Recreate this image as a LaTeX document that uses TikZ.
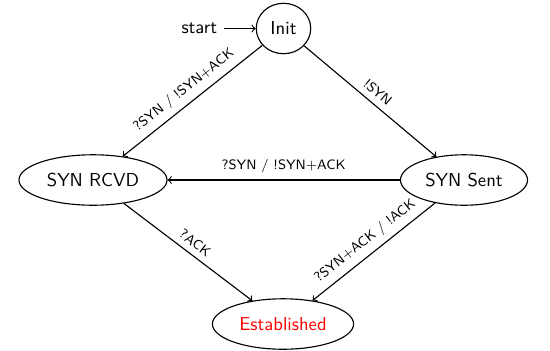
\documentclass[tikz,border=0pt]{standalone}
\usepackage{xcolor}
\usetikzlibrary{shapes.geometric,positioning}
\definecolor{estab}{rgb}{1,0,0}

\begin{document}
\begin{tikzpicture}[x=0.01882cm,y=-0.01882cm, font=\sffamily, semithick,
	state/.style={ellipse,draw,minimum height=27pt},
	lbl/.style={sloped,above,font=\sffamily\fontsize{7.3}{9}\selectfont}]
			\useasboundingbox (0,0) rectangle (550,350);
			\coordinate (s1) at (283.5,28.5);
			\coordinate (s2) at (93,180);
			\coordinate (s3) at (464,180);
			\coordinate (s4) at (283,324);
			
			\node (init) at (s1) [state] {Init};
			\node (rcvd) at (s2) [state] {SYN RCVD};
			\node (sent) at (s3) [state] {SYN Sent};
			\node (estab) at (s4) [state, text=estab] {Established};
			\node (start) [left=0.6cm of init] {start};
			
			\draw[->] (start) -- (init);
			\draw[->] (init) -- (rcvd) node[midway, lbl]{?SYN / !SYN+ACK};
			\draw[->] (init) -- (sent) node[midway, lbl]{!SYN};
			\draw[->] (sent) -- (rcvd) node[midway, lbl]{?SYN / !SYN+ACK};
			\draw[->] (rcvd) -- (estab) node[midway, lbl]{?ACK};
			\draw[->] (sent) -- (estab) node[midway, lbl]{?SYN+ACK / !ACK};
		\end{tikzpicture}
\end{document}
